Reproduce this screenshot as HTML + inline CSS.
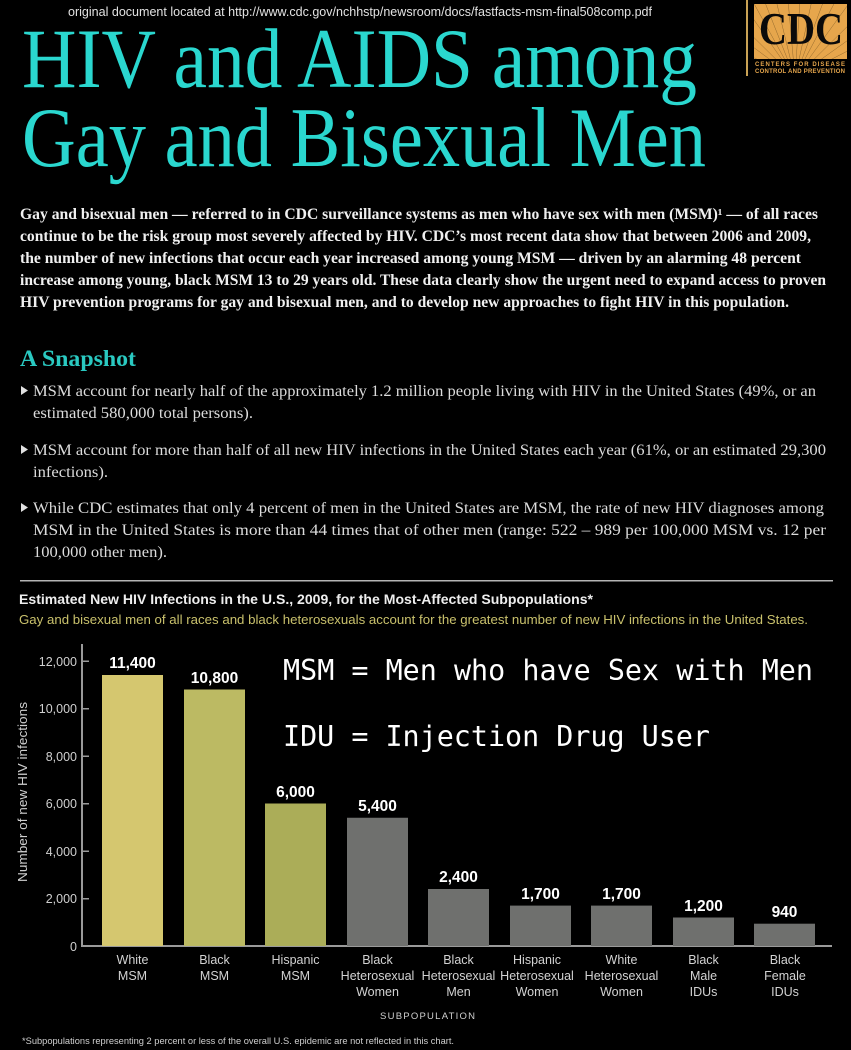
<!DOCTYPE html>
<html>
<head>
<meta charset="utf-8">
<style>
html,body{margin:0;padding:0;background:#000;}
body{width:851px;height:1050px;overflow:hidden;}
svg{display:block;}
.serif{font-family:"Liberation Serif","DejaVu Serif",serif;}
.sans{font-family:"Liberation Sans","DejaVu Sans",sans-serif;}
.mono{font-family:"DejaVu Sans Mono","Liberation Mono",monospace;}
</style>
</head>
<body>
<svg width="851" height="1050" viewBox="0 0 851 1050" xmlns="http://www.w3.org/2000/svg">
<rect x="0" y="0" width="851" height="1050" fill="#000"/>

<!-- top url line -->
<text class="sans" x="68" y="16" font-size="12.5" fill="#e2e2e2" textLength="584" lengthAdjust="spacingAndGlyphs">original document located at http://www.cdc.gov/nchhstp/newsroom/docs/fastfacts-msm-final508comp.pdf</text>

<!-- CDC logo -->
<rect x="746" y="0" width="2" height="76" fill="#c9a255"/>
<clipPath id="logoclip"><rect x="754" y="4" width="93" height="55"/></clipPath>
<rect x="754" y="4" width="93" height="55" fill="#e6a64c"/>
<g clip-path="url(#logoclip)" stroke="#5a4018" stroke-width="0.5" opacity="0.6">
<line x1="795" y1="78" x2="740" y2="0"/>
<line x1="795" y1="78" x2="752" y2="0"/>
<line x1="795" y1="78" x2="764" y2="0"/>
<line x1="795" y1="78" x2="776" y2="0"/>
<line x1="795" y1="78" x2="788" y2="0"/>
<line x1="795" y1="78" x2="800" y2="0"/>
<line x1="795" y1="78" x2="812" y2="0"/>
<line x1="795" y1="78" x2="824" y2="0"/>
<line x1="795" y1="78" x2="836" y2="0"/>
<line x1="795" y1="78" x2="850" y2="2"/>
<line x1="795" y1="78" x2="860" y2="14"/>
<line x1="795" y1="78" x2="865" y2="28"/>
<line x1="795" y1="78" x2="865" y2="42"/>
<line x1="795" y1="78" x2="865" y2="54"/>
<line x1="795" y1="78" x2="730" y2="14"/>
<line x1="795" y1="78" x2="730" y2="30"/>
<line x1="795" y1="78" x2="730" y2="46"/>
</g>
<text class="serif" x="759" y="44" font-size="46" font-weight="bold" fill="#0a0a0a" textLength="84" lengthAdjust="spacingAndGlyphs">CDC</text>
<text class="sans" x="755" y="66" font-size="6" font-weight="bold" fill="#e6a64c" textLength="91" lengthAdjust="spacing" letter-spacing="1">CENTERS FOR DISEASE</text>
<text class="sans" x="755" y="73" font-size="6" font-weight="bold" fill="#e6a64c" textLength="91" lengthAdjust="spacing" letter-spacing="1">CONTROL AND PREVENTION</text>

<!-- Title -->
<text class="serif" x="22" y="87" font-size="85" fill="#2ad7cf" textLength="675" lengthAdjust="spacingAndGlyphs">HIV and AIDS among</text>
<text class="serif" x="22" y="166" font-size="85" fill="#2ad7cf" textLength="684" lengthAdjust="spacingAndGlyphs">Gay and Bisexual Men</text>

<!-- Intro paragraph -->
<g class="serif" font-size="15.5" font-weight="bold" fill="#f0f0f0">
<text x="20" y="219" textLength="798" lengthAdjust="spacingAndGlyphs">Gay and bisexual men — referred to in CDC surveillance systems as men who have sex with men (MSM)¹ — of all races</text>
<text x="20" y="241" textLength="791" lengthAdjust="spacingAndGlyphs">continue to be the risk group most severely affected by HIV. CDC’s most recent data show that between 2006 and 2009,</text>
<text x="20" y="263" textLength="781" lengthAdjust="spacingAndGlyphs">the number of new infections that occur each year increased among young MSM — driven by an alarming 48 percent</text>
<text x="20" y="285" textLength="806" lengthAdjust="spacingAndGlyphs">increase among young, black MSM 13 to 29 years old. These data clearly show the urgent need to expand access to proven</text>
<text x="20" y="307" textLength="769" lengthAdjust="spacingAndGlyphs">HIV prevention programs for gay and bisexual men, and to develop new approaches to fight HIV in this population.</text>
</g>

<!-- A Snapshot -->
<text class="serif" x="20" y="366" font-size="23" font-weight="bold" fill="#2ac9c1" textLength="116" lengthAdjust="spacingAndGlyphs">A Snapshot</text>

<!-- Bullets -->
<g fill="#e0e0e0">
<polygon points="21,386 21,395 28,390.5"/>
<polygon points="21,445 21,454 28,449.5"/>
<polygon points="21,503 21,512 28,507.5"/>
</g>
<g class="serif" font-size="16" fill="#dcdcdc">
<text x="33" y="396" textLength="783" lengthAdjust="spacingAndGlyphs">MSM account for nearly half of the approximately 1.2 million people living with HIV in the United States (49%, or an</text>
<text x="33" y="418" textLength="220" lengthAdjust="spacingAndGlyphs">estimated 580,000 total persons).</text>
<text x="33" y="455" textLength="793" lengthAdjust="spacingAndGlyphs">MSM account for more than half of all new HIV infections in the United States each year (61%, or an estimated 29,300</text>
<text x="33" y="477" textLength="75" lengthAdjust="spacingAndGlyphs">infections).</text>
<text x="33" y="513" textLength="791" lengthAdjust="spacingAndGlyphs">While CDC estimates that only 4 percent of men in the United States are MSM, the rate of new HIV diagnoses among</text>
<text x="33" y="535" textLength="793" lengthAdjust="spacingAndGlyphs">MSM in the United States is more than 44 times that of other men (range: 522 – 989 per 100,000 MSM vs. 12 per</text>
<text x="33" y="557" textLength="134" lengthAdjust="spacingAndGlyphs">100,000 other men).</text>
</g>

<!-- rule -->
<rect x="20" y="580" width="813" height="1.5" fill="#b5b5b5"/>

<!-- chart title -->
<text class="sans" x="19" y="604" font-size="13.5" font-weight="bold" fill="#eeeeee" textLength="574" lengthAdjust="spacingAndGlyphs">Estimated New HIV Infections in the U.S., 2009, for the Most-Affected Subpopulations*</text>
<text class="sans" x="19" y="624" font-size="12.5" fill="#c9c16c" textLength="789" lengthAdjust="spacingAndGlyphs">Gay and bisexual men of all races and black heterosexuals account for the greatest number of new HIV infections in the United States.</text>

<!-- axes -->
<rect x="81" y="644" width="2" height="303" fill="#9a9a9a"/>
<rect x="81" y="945" width="751" height="2" fill="#9a9a9a"/>
<g fill="#9a9a9a">
<rect x="82" y="660.5" width="7" height="1.5"/>
<rect x="82" y="708" width="7" height="1.5"/>
<rect x="82" y="755.5" width="7" height="1.5"/>
<rect x="82" y="803" width="7" height="1.5"/>
<rect x="82" y="850.5" width="7" height="1.5"/>
<rect x="82" y="898" width="7" height="1.5"/>
</g>
<g class="sans" font-size="12.5" fill="#cfcfcf" text-anchor="end">
<text x="77" y="666">12,000</text>
<text x="77" y="713">10,000</text>
<text x="77" y="761">8,000</text>
<text x="77" y="808">6,000</text>
<text x="77" y="856">4,000</text>
<text x="77" y="903">2,000</text>
<text x="77" y="951">0</text>
</g>
<text class="sans" transform="translate(27,792) rotate(-90)" font-size="13" fill="#cfcfcf" text-anchor="middle" textLength="180" lengthAdjust="spacingAndGlyphs">Number of new HIV infections</text>

<!-- bars -->
<rect x="102" y="675" width="61" height="271" fill="#d5c76f"/>
<rect x="184" y="689.5" width="61" height="256.5" fill="#bcba63"/>
<rect x="265" y="803.5" width="61" height="142.5" fill="#abad58"/>
<rect x="347" y="817.75" width="61" height="128.25" fill="#6f706e"/>
<rect x="428" y="889" width="61" height="57" fill="#6f706e"/>
<rect x="510" y="905.6" width="61" height="40.4" fill="#6f706e"/>
<rect x="591" y="905.6" width="61" height="40.4" fill="#6f706e"/>
<rect x="673" y="917.5" width="61" height="28.5" fill="#6f706e"/>
<rect x="754" y="923.7" width="61" height="22.3" fill="#6f706e"/>

<!-- value labels -->
<g class="sans" font-size="15.5" font-weight="bold" fill="#ffffff" text-anchor="middle">
<text x="132.5" y="668">11,400</text>
<text x="214.5" y="683">10,800</text>
<text x="295.5" y="797">6,000</text>
<text x="377.5" y="811">5,400</text>
<text x="458.5" y="882">2,400</text>
<text x="540.5" y="899">1,700</text>
<text x="621.5" y="899">1,700</text>
<text x="703.5" y="911">1,200</text>
<text x="784.5" y="917">940</text>
</g>

<!-- category labels -->
<g class="sans" font-size="12.5" fill="#d2d2d2" text-anchor="middle">
<text x="132.5" y="964">White</text><text x="132.5" y="980">MSM</text>
<text x="214.5" y="964">Black</text><text x="214.5" y="980">MSM</text>
<text x="295.5" y="964">Hispanic</text><text x="295.5" y="980">MSM</text>
<text x="377.5" y="964">Black</text><text x="377.5" y="980">Heterosexual</text><text x="377.5" y="996">Women</text>
<text x="458.5" y="964">Black</text><text x="458.5" y="980">Heterosexual</text><text x="458.5" y="996">Men</text>
<text x="537" y="964">Hispanic</text><text x="537" y="980">Heterosexual</text><text x="537" y="996">Women</text>
<text x="621.5" y="964">White</text><text x="621.5" y="980">Heterosexual</text><text x="621.5" y="996">Women</text>
<text x="703.5" y="964">Black</text><text x="703.5" y="980">Male</text><text x="703.5" y="996">IDUs</text>
<text x="785" y="964">Black</text><text x="785" y="980">Female</text><text x="785" y="996">IDUs</text>
</g>
<text class="sans" x="380" y="1019" font-size="9.5" fill="#cfcfcf" textLength="95" lengthAdjust="spacing">SUBPOPULATION</text>
<text class="sans" x="22" y="1044" font-size="9.5" fill="#cfcfcf" textLength="432" lengthAdjust="spacingAndGlyphs">*Subpopulations representing 2 percent or less of the overall U.S. epidemic are not reflected in this chart.</text>

<!-- overlay mono text -->
<text class="mono" x="283" y="680" font-size="28.5" fill="#ffffff" textLength="530" lengthAdjust="spacingAndGlyphs">MSM = Men who have Sex with Men</text>
<text class="mono" x="283" y="746" font-size="28.5" fill="#ffffff" textLength="427" lengthAdjust="spacingAndGlyphs">IDU = Injection Drug User</text>
</svg>
</body>
</html>
